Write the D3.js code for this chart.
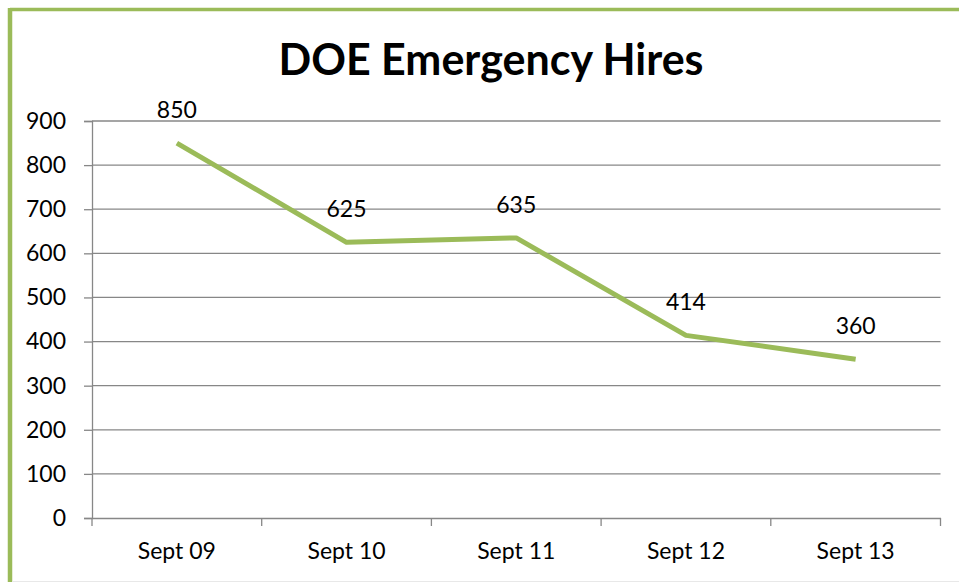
<!DOCTYPE html>
<html><head><meta charset="utf-8">
<script src="https://cdn.jsdelivr.net/npm/d3@7"></script>
<style>
html,body{margin:0;padding:0;background:#fff;}
svg{display:block;}
text{font-family:Lato,"Open Sans",sans-serif;fill:#000;}
</style></head>
<body>
<svg id="chart" width="959" height="582"></svg>
<script>
const title = "DOE Emergency Hires";
const categories = ["Sept 09","Sept 10","Sept 11","Sept 12","Sept 13"];
const values = [850, 625, 635, 414, 360];
const yTicks = [0,100,200,300,400,500,600,700,800,900];

const svg = d3.select("#chart");
const W = 959, H = 582;
const plot = {left: 92, right: 940.5, top: 121, bottom: 518};
const FS = 23;

// frame
svg.append("rect").attr("x",0).attr("y",0).attr("width",W).attr("height",H).attr("fill","#fff");
svg.append("line").attr("x1",10).attr("x2",W).attr("y1",9.5).attr("y2",9.5)
  .attr("stroke","#9BBB59").attr("stroke-width",3.5);
svg.append("line").attr("x1",10).attr("x2",10).attr("y1",8).attr("y2",H)
  .attr("stroke","#9BBB59").attr("stroke-width",4.5);
svg.append("line").attr("x1",12).attr("x2",W).attr("y1",581.5).attr("y2",581.5)
  .attr("stroke","#e8e8e8").attr("stroke-width",1);

const x = d3.scaleBand().domain(categories).range([plot.left, plot.right]).padding(0);
const y = d3.scaleLinear().domain([0, 900]).range([plot.bottom, plot.top]);

const gridColor = "#878787";

// gridlines
svg.append("g").selectAll("line").data(yTicks.filter(d=>d>0)).join("line")
  .attr("x1", plot.left).attr("x2", plot.right)
  .attr("y1", d=>y(d)).attr("y2", d=>y(d))
  .attr("stroke", gridColor).attr("stroke-width", 1.3);

// y axis
const yAxis = d3.axisLeft(y).tickValues(yTicks).tickSize(8).tickPadding(18).tickFormat(d3.format("d"));
const gy = svg.append("g").attr("transform",`translate(${plot.left},0)`).call(yAxis);
gy.select(".domain").attr("stroke", gridColor).attr("stroke-width",1.3);
gy.selectAll(".tick line").attr("stroke", gridColor).attr("stroke-width",1.3);
gy.selectAll(".tick text").attr("font-size",FS).attr("font-family","Lato, 'Open Sans', sans-serif").attr("fill","#000");

// x axis
const xAxis = d3.axisBottom(x).tickSize(0).tickPadding(25);
const gx = svg.append("g").attr("transform",`translate(0,${plot.bottom})`).call(xAxis);
gx.select(".domain").attr("stroke", gridColor).attr("stroke-width",1.3);
gx.selectAll(".tick text").attr("font-size",FS).attr("font-family","Lato, 'Open Sans', sans-serif").attr("fill","#000");
// category boundary ticks
const bounds = categories.map(c=>x(c)).concat([x(categories[categories.length-1]) + x.bandwidth()]);
svg.append("g").selectAll("line").data(bounds).join("line")
  .attr("x1", d=>d).attr("x2", d=>d).attr("y1", plot.bottom).attr("y2", plot.bottom+8)
  .attr("stroke", gridColor).attr("stroke-width",1.3);

// line
const line = d3.line().x((d,i)=>x(categories[i]) + x.bandwidth()/2).y(d=>y(d));
svg.append("path").datum(values).attr("d", line)
  .attr("fill","none").attr("stroke","#9BBB59").attr("stroke-width",5)
  .attr("stroke-linejoin","round").attr("stroke-linecap","butt");

// data labels
svg.append("g").selectAll("text").data(values).join("text")
  .attr("x",(d,i)=>x(categories[i]) + x.bandwidth()/2)
  .attr("y", d=>y(d) - 25)
  .attr("text-anchor","middle").attr("font-size",FS)
  .text(d=>d);

// title
svg.append("text").attr("x",491).attr("y",75).attr("text-anchor","middle")
  .attr("font-size",43).attr("font-weight","bold").text(title);
</script>
</body></html>
